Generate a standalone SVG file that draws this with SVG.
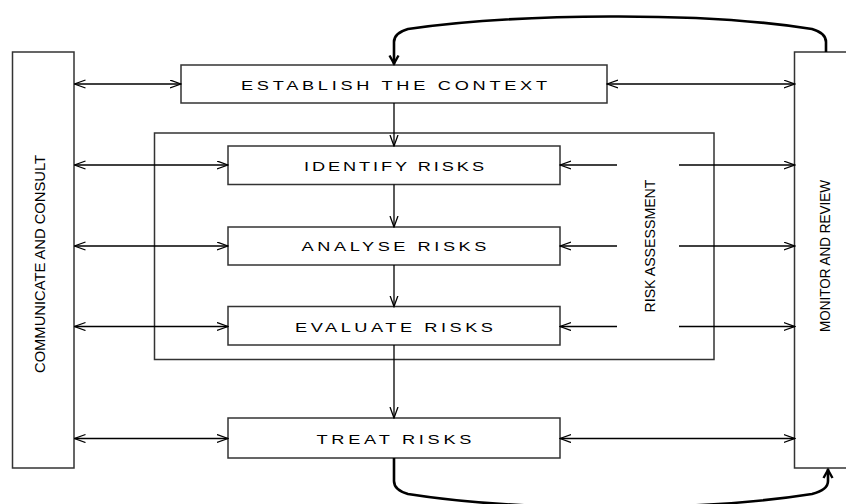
<svg xmlns="http://www.w3.org/2000/svg" width="846" height="504" viewBox="0 0 846 504">
<style>
.box{fill:#fff;stroke:#333;stroke-width:1.5}
.frame{fill:none;stroke:#333;stroke-width:1.5}
.c{fill:none;stroke:#000;stroke-width:1.3}
.loop{fill:none;stroke:#000;stroke-width:2.6}
.lbl{font-family:"Liberation Sans",Arial,sans-serif;font-size:13px;fill:#000;text-anchor:middle}
.vl{font-family:"Liberation Sans",Arial,sans-serif;font-size:15px;fill:#000;text-anchor:middle}
</style>
<defs>
<marker id="ah" markerUnits="userSpaceOnUse" markerWidth="12" markerHeight="10" refX="11" refY="4.5" orient="auto-start-reverse">
<path d="M0,0.5 L11,4.5 L0,8.5" fill="none" stroke="#000" stroke-width="1.3"/>
</marker>
<marker id="ahb" markerUnits="userSpaceOnUse" markerWidth="14" markerHeight="12" refX="11" refY="6" orient="auto">
<path d="M2,1.5 L10,6 L2,10.5" fill="none" stroke="#000" stroke-width="2.4"/>
</marker>
</defs>
<rect width="846" height="504" fill="#fff"/>

<g id="risk-assessment">
<rect class="frame" x="154.5" y="133" width="559.5" height="226.5"/>
<text class="vl" transform="translate(655,246) rotate(-90)" textLength="133" lengthAdjust="spacingAndGlyphs">RISK ASSESSMENT</text>
</g>

<g id="communicate">
<rect class="box" x="12.5" y="52" width="61.5" height="416"/>
<text class="vl" transform="translate(44.5,264) rotate(-90)" textLength="218" lengthAdjust="spacingAndGlyphs">COMMUNICATE AND CONSULT</text>
</g>

<g id="monitor">
<rect class="box" x="794.5" y="52" width="60" height="416"/>
<text class="vl" transform="translate(830,256) rotate(-90)" textLength="152" lengthAdjust="spacingAndGlyphs">MONITOR AND REVIEW</text>
</g>

<g id="establish">
<rect class="box" x="181" y="65" width="426" height="38"/>
<text class="lbl" transform="translate(394,89.5) scale(1.4,1)" textLength="218.6" lengthAdjust="spacing">ESTABLISH THE CONTEXT</text>
</g>

<g id="identify">
<rect class="box" x="228" y="146" width="332" height="38.5"/>
<text class="lbl" transform="translate(394,170.5) scale(1.4,1)" textLength="128.6" lengthAdjust="spacing">IDENTIFY RISKS</text>
</g>

<g id="analyse">
<rect class="box" x="228" y="227" width="332" height="38"/>
<text class="lbl" transform="translate(394,251) scale(1.4,1)" textLength="132" lengthAdjust="spacing">ANALYSE RISKS</text>
</g>

<g id="evaluate">
<rect class="box" x="228" y="306.5" width="332" height="38.5"/>
<text class="lbl" transform="translate(394,331.5) scale(1.4,1)" textLength="141.4" lengthAdjust="spacing">EVALUATE RISKS</text>
</g>

<g id="treat">
<rect class="box" x="228" y="418" width="332" height="40"/>
<text class="lbl" transform="translate(394,443.5) scale(1.4,1)" textLength="110.7" lengthAdjust="spacing">TREAT RISKS</text>
</g>

<g id="connectors">
<line class="c" x1="74.5" y1="84" x2="181" y2="84" marker-start="url(#ah)" marker-end="url(#ah)"/>
<line class="c" x1="74.5" y1="165" x2="228" y2="165" marker-start="url(#ah)" marker-end="url(#ah)"/>
<line class="c" x1="74.5" y1="246" x2="228" y2="246" marker-start="url(#ah)" marker-end="url(#ah)"/>
<line class="c" x1="74.5" y1="326.5" x2="228" y2="326.5" marker-start="url(#ah)" marker-end="url(#ah)"/>
<line class="c" x1="74.5" y1="438.5" x2="228" y2="438.5" marker-start="url(#ah)" marker-end="url(#ah)"/>
<line class="c" x1="607" y1="84" x2="794.5" y2="84" marker-start="url(#ah)" marker-end="url(#ah)"/>
<line class="c" x1="617" y1="165" x2="560" y2="165" marker-end="url(#ah)"/>
<line class="c" x1="679" y1="165" x2="794.5" y2="165" marker-end="url(#ah)"/>
<line class="c" x1="617" y1="246" x2="560" y2="246" marker-end="url(#ah)"/>
<line class="c" x1="679" y1="246" x2="794.5" y2="246" marker-end="url(#ah)"/>
<line class="c" x1="617" y1="326.5" x2="560" y2="326.5" marker-end="url(#ah)"/>
<line class="c" x1="679" y1="326.5" x2="794.5" y2="326.5" marker-end="url(#ah)"/>
<line class="c" x1="560" y1="438.5" x2="794.5" y2="438.5" marker-start="url(#ah)" marker-end="url(#ah)"/>
<line class="c" x1="394" y1="103" x2="394" y2="146" marker-end="url(#ah)"/>
<line class="c" x1="394" y1="184.5" x2="394" y2="227" marker-end="url(#ah)"/>
<line class="c" x1="394" y1="265" x2="394" y2="306.5" marker-end="url(#ah)"/>
<line class="c" x1="394" y1="345" x2="394" y2="418" marker-end="url(#ah)"/>
<path class="loop" d="M826,52 V42 Q826,33 812,29 Q730,16 610,16.5 Q490,17 408,29 Q394,33 394,42 V64.5" marker-end="url(#ahb)"/>
<path class="loop" d="M394,458 V481 Q394,490 408,494 Q490,507 610,507.5 Q730,507 812,494 Q828,490 828,481 V469" marker-end="url(#ahb)"/>
</g>
</svg>
